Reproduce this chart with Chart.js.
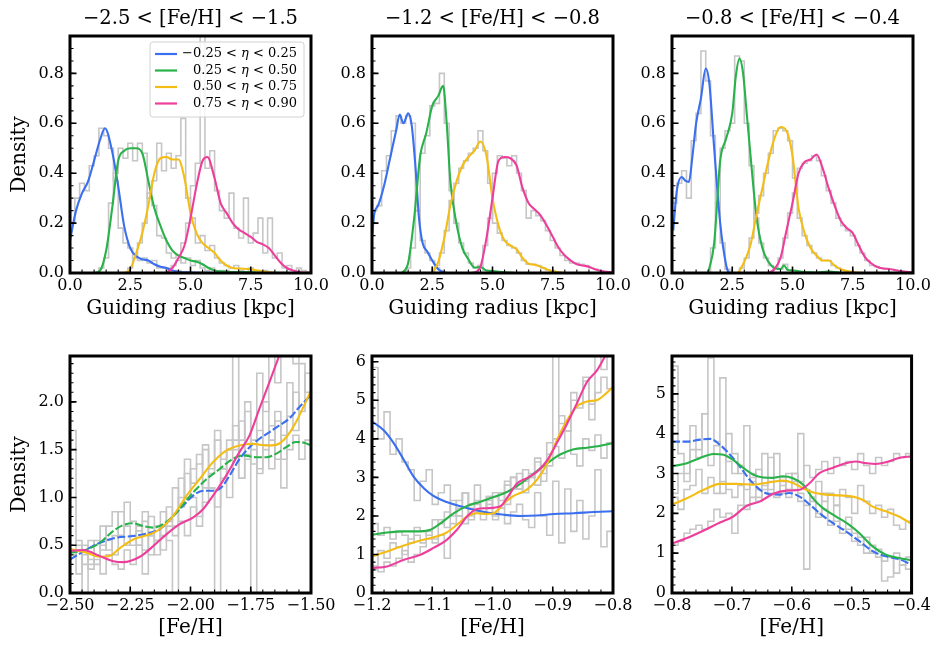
<!DOCTYPE html>
<html><head><meta charset="utf-8">
<script src="https://cdn.jsdelivr.net/npm/chart.js@4.4.0/dist/chart.umd.min.js"></script>
<style>
html,body{margin:0;padding:0;background:#fff;}
#wrap{position:relative;width:934px;height:646px;overflow:hidden;background:#fff;}
canvas{position:absolute;left:0;top:0;}
</style></head><body><div id="wrap">
<canvas id="c0" width="934" height="646"></canvas>
<canvas id="c1" width="934" height="646"></canvas>
<canvas id="c2" width="934" height="646"></canvas>
<canvas id="c3" width="934" height="646"></canvas>
<canvas id="c4" width="934" height="646"></canvas>
<canvas id="c5" width="934" height="646"></canvas>
</div>
<script>
// ---------------- DATA ----------------
const panelTitles = ['−2.5 < [Fe/H] < −1.5', '−1.2 < [Fe/H] < −0.8', '−0.8 < [Fe/H] < −0.4'];
const groupLabels = [['−0.25 < ', 'η', ' < 0.25'], ['0.25 < ', 'η', ' < 0.50'], ['0.50 < ', 'η', ' < 0.75'], ['0.75 < ', 'η', ' < 0.90']];
const groupColors = ['#3a6ff0', '#29b24a', '#f4bd15', '#ee3e9c'];

// Top row: guiding radius KDE curves [Rg (kpc), density]
const rgA_blue = [[0,0.13],[0.25,0.25],[0.5,0.32],[0.75,0.367],[1.0,0.45],[1.25,0.535],[1.45,0.58],[1.75,0.487],[2.0,0.347],[2.25,0.187],[2.5,0.1],[2.75,0.067],[3.0,0.055],[3.25,0.05],[3.5,0.035],[3.75,0.025],[4.0,0.02],[4.25,0.01],[4.5,0.005],[5.0,0.002],[6.0,0]];
const rgA_green = [[1.0,0],[1.25,0.01],[1.5,0.09],[1.75,0.26],[2.0,0.45],[2.25,0.49],[2.5,0.5],[2.75,0.5],[3.0,0.48],[3.25,0.37],[3.5,0.26],[3.75,0.19],[4.0,0.13],[4.25,0.09],[4.5,0.07],[4.75,0.06],[5.0,0.05],[5.25,0.045],[5.5,0.035],[5.75,0.02],[6.0,0.01],[6.5,0.005],[7.5,0.003],[9.0,0]];
const rgA_yellow = [[2.25,0],[2.5,0.015],[2.75,0.08],[3.0,0.16],[3.25,0.27],[3.5,0.4],[3.75,0.46],[4.0,0.465],[4.25,0.455],[4.5,0.455],[4.75,0.38],[5.0,0.24],[5.25,0.16],[5.5,0.12],[5.75,0.1],[6.0,0.08],[6.25,0.05],[6.5,0.03],[6.75,0.02],[7.0,0.018],[7.5,0.015],[8.0,0.007],[8.5,0]];
const rgA_pink = [[4.0,0],[4.25,0.02],[4.5,0.06],[4.75,0.11],[5.0,0.22],[5.25,0.35],[5.5,0.45],[5.7,0.465],[6.0,0.38],[6.25,0.28],[6.5,0.24],[6.75,0.2],[7.0,0.175],[7.25,0.16],[7.5,0.145],[7.75,0.125],[8.0,0.115],[8.25,0.1],[8.5,0.07],[8.75,0.04],[9.0,0.02],[9.25,0.01],[9.5,0.004],[10,0]];

const rgB_blue = [[0,0.14],[0.1,0.24],[0.25,0.27],[0.5,0.35],[0.75,0.46],[1.0,0.57],[1.15,0.635],[1.3,0.6],[1.5,0.64],[1.65,0.59],[1.8,0.43],[1.95,0.22],[2.1,0.12],[2.3,0.085],[2.5,0.05],[2.75,0.015],[3.0,0.002],[3.25,0]];
const rgB_green = [[1.25,0],[1.5,0.04],[1.75,0.22],[2.0,0.47],[2.25,0.56],[2.5,0.67],[2.75,0.71],[2.95,0.75],[3.1,0.6],[3.25,0.37],[3.5,0.2],[3.75,0.1],[4.0,0.055],[4.25,0.022],[4.5,0.024],[4.75,0.01],[5.0,0.008],[5.5,0.003],[6.0,0]];
const rgB_yellow = [[2.5,0],[2.75,0.045],[3.0,0.14],[3.25,0.27],[3.5,0.365],[3.75,0.43],[4.0,0.465],[4.25,0.49],[4.5,0.527],[4.75,0.47],[5.0,0.3],[5.25,0.19],[5.5,0.13],[5.75,0.11],[6.0,0.095],[6.25,0.06],[6.5,0.037],[6.75,0.033],[7.0,0.025],[7.25,0.015],[7.5,0.007],[8.0,0]];
const rgB_pink = [[4.25,0],[4.5,0.025],[4.75,0.14],[5.0,0.3],[5.25,0.45],[5.5,0.465],[5.75,0.46],[6.0,0.43],[6.25,0.34],[6.5,0.28],[6.75,0.255],[7.0,0.23],[7.25,0.19],[7.5,0.145],[7.75,0.1],[8.0,0.07],[8.25,0.05],[8.5,0.035],[8.75,0.03],[9.0,0.025],[9.25,0.015],[9.5,0.008],[10,0.002]];

const rgC_blue = [[0.05,0.17],[0.2,0.33],[0.4,0.385],[0.55,0.37],[0.7,0.365],[0.85,0.47],[1.0,0.6],[1.2,0.7],[1.4,0.82],[1.55,0.76],[1.75,0.5],[2.0,0.2],[2.25,0.03],[2.35,0]];
const rgC_green = [[1.5,0],[1.75,0.12],[2.0,0.45],[2.25,0.54],[2.5,0.64],[2.65,0.79],[2.8,0.86],[2.95,0.8],[3.1,0.64],[3.25,0.48],[3.5,0.23],[3.75,0.1],[4.0,0.045],[4.25,0.02],[4.5,0.016],[4.65,0.03],[4.8,0.012],[5.0,0.01],[5.5,0.004],[6.0,0.002],[6.5,0.006],[7.0,0]];
const rgC_yellow = [[2.75,0],[3.0,0.045],[3.25,0.11],[3.5,0.23],[3.75,0.34],[4.0,0.45],[4.25,0.54],[4.5,0.585],[4.75,0.57],[5.0,0.47],[5.25,0.26],[5.5,0.16],[5.75,0.1],[6.0,0.07],[6.25,0.05],[6.5,0.05],[6.75,0.03],[7.0,0.015],[7.5,0.004],[8.0,0]];
const rgC_pink = [[4.0,0],[4.25,0.015],[4.5,0.06],[4.75,0.17],[5.0,0.28],[5.25,0.4],[5.5,0.445],[5.75,0.455],[6.0,0.475],[6.25,0.42],[6.5,0.34],[6.75,0.27],[7.0,0.21],[7.25,0.18],[7.5,0.16],[7.75,0.11],[8.0,0.065],[8.25,0.04],[8.5,0.025],[8.75,0.018],[9.0,0.016],[9.25,0.012],[9.5,0.007],[10,0.003]];

// Top row histograms (bin width 0.2 kpc), {from: first bin edge, v: bin values}
const hA_blue = {from:0.0, v:[0.2,0.3,0.36,0.33,0.43,0.47,0.58,0.55,0.5,0.37,0.18,0.12,0.1,0.06,0.05,0.06,0.04,0.05,0.02,0.02,0.01,0,0.01]};
const hA_green = {from:1.2, v:[0.02,0.06,0.28,0.4,0.5,0.46,0.52,0.45,0.52,0.48,0.3,0.27,0.15,0.14,0.08,0.06,0.07,0.04,0.06,0.03,0.05,0.02,0.01,0.02,0,0.01,0.01]};
const hA_yellow = {from:2.4, v:[0.02,0.06,0.12,0.2,0.32,0.37,0.52,0.41,0.48,0.42,0.47,0.62,0.3,0.22,0.12,0.15,0.09,0.11,0.06,0.04,0.03,0.02,0.03,0.01,0,0.02,0,0,0.01]};
const hA_pink = {from:4.0, v:[0.02,0.03,0.05,0.12,0.2,0.35,0.44,1.0,0.42,0.49,0.33,0.25,0.22,0.32,0.18,0.14,0.3,0.12,0.16,0.22,0.08,0.22,0.06,0.08,0.02,0.03,0.01,0.02,0.01,0.005]};

const hB_blue = {from:0.0, v:[0.25,0.27,0.41,0.47,0.57,0.63,0.6,0.63,0.6,0.25,0.13,0.08,0.05,0.02,0.01]};
const hB_green = {from:1.4, v:[0.02,0.1,0.25,0.48,0.55,0.67,0.68,0.8,0.6,0.33,0.2,0.12,0.08,0.04,0.02,0.03,0.01,0.01,0.005]};
const hB_yellow = {from:2.6, v:[0.03,0.08,0.17,0.29,0.36,0.42,0.45,0.48,0.5,0.57,0.49,0.36,0.2,0.16,0.13,0.11,0.1,0.08,0.05,0.035,0.035,0.03,0.02,0.012,0.008,0.004]};
const hB_pink = {from:4.2, v:[0.005,0.03,0.11,0.22,0.4,0.47,0.46,0.43,0.47,0.4,0.33,0.22,0.25,0.23,0.21,0.17,0.13,0.1,0.07,0.05,0.04,0.04,0.035,0.03,0.02,0.015,0.008,0.005,0.003]};

const hC_blue = {from:0.0, v:[0.28,0.36,0.41,0.3,0.53,0.64,0.89,0.77,0.55,0.28,0.12,0.015]};
const hC_green = {from:1.6, v:[0.1,0.28,0.5,0.57,0.6,0.87,0.85,0.6,0.43,0.22,0.12,0.06,0.03,0.02,0.015,0.035,0.012,0.01,0.005,0.003,0,0,0,0,0.006]};
const hC_yellow = {from:2.8, v:[0.02,0.06,0.14,0.24,0.31,0.4,0.48,0.57,0.58,0.57,0.53,0.38,0.22,0.15,0.11,0.08,0.06,0.05,0.05,0.03,0.02,0.01,0.005]};
const hC_pink = {from:4.2, v:[0.02,0.06,0.14,0.24,0.32,0.42,0.44,0.45,0.47,0.45,0.39,0.33,0.28,0.22,0.19,0.17,0.15,0.11,0.08,0.05,0.03,0.025,0.02,0.018,0.015,0.01,0.008,0.005,0.003]};

// Bottom row: [Fe/H] KDE curves
const feD_blue = [[-2.5,0.35],[-2.43,0.456],[-2.376,0.526],[-2.307,0.579],[-2.238,0.596],[-2.169,0.63],[-2.128,0.667],[-2.072,0.807],[-2.031,0.912],[-1.99,1.017],[-1.948,1.07],[-1.907,1.07],[-1.872,1.105],[-1.838,1.228],[-1.797,1.4],[-1.755,1.526],[-1.714,1.614],[-1.672,1.684],[-1.631,1.754],[-1.59,1.825],[-1.548,1.947],[-1.5,2.07]];
const feD_green = [[-2.5,0.42],[-2.43,0.456],[-2.376,0.526],[-2.32,0.65],[-2.28,0.71],[-2.238,0.73],[-2.197,0.70],[-2.155,0.684],[-2.114,0.72],[-2.07,0.807],[-2.03,0.93],[-1.99,1.05],[-1.934,1.19],[-1.879,1.298],[-1.824,1.404],[-1.783,1.44],[-1.728,1.42],[-1.686,1.42],[-1.645,1.456],[-1.603,1.526],[-1.562,1.58],[-1.528,1.572],[-1.5,1.544]];
const feD_yellow = [[-2.5,0.46],[-2.43,0.42],[-2.376,0.38],[-2.334,0.39],[-2.293,0.47],[-2.238,0.56],[-2.169,0.614],[-2.128,0.667],[-2.072,0.807],[-2.017,1.017],[-1.962,1.193],[-1.907,1.368],[-1.852,1.49],[-1.797,1.544],[-1.741,1.56],[-1.686,1.544],[-1.645,1.55],[-1.603,1.63],[-1.562,1.79],[-1.528,1.965],[-1.5,2.12]];
const feD_pink = [[-2.5,0.44],[-2.445,0.45],[-2.376,0.386],[-2.32,0.333],[-2.28,0.323],[-2.21,0.379],[-2.155,0.49],[-2.1,0.614],[-2.045,0.72],[-1.99,0.79],[-1.948,0.877],[-1.907,1.017],[-1.852,1.228],[-1.797,1.474],[-1.755,1.65],[-1.714,1.93],[-1.672,2.21],[-1.631,2.49],[-1.59,2.78]];

const feE_blue = [[-1.2,4.45],[-1.181,4.23],[-1.164,3.89],[-1.147,3.45],[-1.131,3.02],[-1.114,2.72],[-1.098,2.52],[-1.076,2.36],[-1.053,2.25],[-1.031,2.16],[-1.009,2.09],[-0.981,2.03],[-0.954,2.0],[-0.926,2.01],[-0.898,2.05],[-0.865,2.07],[-0.832,2.1],[-0.8,2.12]];
const feE_green = [[-1.2,1.51],[-1.175,1.57],[-1.147,1.6],[-1.12,1.6],[-1.103,1.64],[-1.087,1.8],[-1.064,2.07],[-1.042,2.26],[-1.02,2.37],[-0.998,2.49],[-0.976,2.62],[-0.954,2.83],[-0.932,3.09],[-0.909,3.37],[-0.887,3.6],[-0.865,3.73],[-0.843,3.77],[-0.821,3.82],[-0.8,3.89]];
const feE_yellow = [[-1.2,0.95],[-1.175,1.08],[-1.147,1.23],[-1.12,1.36],[-1.092,1.47],[-1.076,1.57],[-1.059,1.77],[-1.042,1.99],[-1.026,2.07],[-1.009,2.05],[-0.998,2.07],[-0.981,2.33],[-0.965,2.52],[-0.943,2.68],[-0.926,2.94],[-0.909,3.37],[-0.893,3.97],[-0.876,4.49],[-0.86,4.84],[-0.843,4.97],[-0.826,5.01],[-0.81,5.2],[-0.8,5.35]];
const feE_pink = [[-1.2,0.65],[-1.175,0.69],[-1.147,0.86],[-1.12,0.99],[-1.098,1.17],[-1.076,1.38],[-1.059,1.64],[-1.042,1.99],[-1.026,2.18],[-1.009,2.2],[-0.987,2.25],[-0.976,2.46],[-0.959,2.85],[-0.943,2.98],[-0.926,3.15],[-0.909,3.45],[-0.893,3.9],[-0.876,4.4],[-0.86,4.92],[-0.843,5.48],[-0.826,5.79],[-0.815,6.09],[-0.8,6.5]];

const feF_blue = [[-0.8,3.8],[-0.775,3.8],[-0.753,3.85],[-0.736,3.87],[-0.72,3.72],[-0.703,3.47],[-0.687,3.18],[-0.67,2.84],[-0.653,2.59],[-0.637,2.48],[-0.62,2.47],[-0.604,2.51],[-0.587,2.42],[-0.57,2.22],[-0.554,2.01],[-0.532,1.76],[-0.51,1.55],[-0.487,1.3],[-0.465,1.05],[-0.443,0.92],[-0.421,0.85],[-0.4,0.71]];
const feF_green = [[-0.8,3.18],[-0.775,3.26],[-0.753,3.39],[-0.731,3.49],[-0.714,3.47],[-0.698,3.34],[-0.681,3.14],[-0.664,2.97],[-0.648,2.9],[-0.631,2.89],[-0.615,2.93],[-0.598,2.88],[-0.581,2.72],[-0.565,2.38],[-0.548,2.13],[-0.526,1.92],[-0.504,1.71],[-0.487,1.5],[-0.465,1.17],[-0.443,0.96],[-0.421,0.88],[-0.4,0.82]];
const feF_yellow = [[-0.8,2.22],[-0.775,2.38],[-0.747,2.59],[-0.72,2.74],[-0.692,2.74],[-0.664,2.72],[-0.637,2.78],[-0.615,2.82],[-0.598,2.76],[-0.581,2.63],[-0.565,2.53],[-0.543,2.47],[-0.52,2.45],[-0.498,2.42],[-0.482,2.34],[-0.465,2.17],[-0.443,2.05],[-0.421,1.92],[-0.4,1.73]];
const feF_pink = [[-0.8,1.24],[-0.775,1.38],[-0.747,1.57],[-0.72,1.77],[-0.698,1.92],[-0.675,2.19],[-0.653,2.3],[-0.631,2.49],[-0.609,2.57],[-0.587,2.59],[-0.57,2.76],[-0.554,3.01],[-0.532,3.14],[-0.51,3.26],[-0.493,3.3],[-0.476,3.26],[-0.46,3.24],[-0.443,3.28],[-0.421,3.39],[-0.4,3.43]];

// Bottom row histograms
const hD_blue = {from:-2.5, v:[0.4,0.55,0.3,0.55,0.4,0.7,0.45,0.6,0.85,0.5,0.6,0.7,0.45,0.8,0.55,0.6,0.75,1.1,0.9,1.4,1.0,0.8,1.5,1.1,0.9,1.3,1.0,1.6,1.2,1.9,1.5,1.3,2.0,1.6,1.9,1.4,2.2,1.7,2.4,2.1]};
const hD_green = {from:-2.5, v:[1.7,0.5,0.4,0.25,0.55,0.45,0.7,0.85,0.6,0.95,0.75,0.5,0.85,0.6,0.7,0.45,0.9,0.7,1.2,1.0,1.3,1.45,1.1,1.25,1.6,1.3,1.5,1.75,1.2,1.4,1.6,1.25,1.55,1.3,1.8,1.1,1.5,1.65,1.4,1.6]};
const hD_yellow = {from:-2.5, v:[0.45,0.2,0.5,0.35,0.3,0.5,0.55,0.4,0.6,0.7,0.5,0.65,0.75,0.4,0.55,0.85,0.7,0.6,1.0,1.25,1.15,1.35,1.55,1.3,1.7,1.4,1.6,1.5,1.8,1.45,1.35,1.7,1.5,1.75,1.4,1.65,1.85,2.1,1.9,2.3]};
const hD_pink = {from:-2.5, v:[0.4,0.45,0.0,0.3,0.35,0.2,0.4,0.3,0.25,0.45,0.3,0.5,0.2,0.6,0.4,0.7,0.55,0.0,0.75,0.6,0.9,0.7,0.95,1.1,0.0,1.2,1.5,2.8,1.6,2.0,0.0,2.3,1.9,2.6,2.2,2.7,3.0,2.4,2.8,2.6]};

const hE_blue = {from:-1.2, v:[5.85,4.0,4.7,3.6,4.0,3.4,3.2,2.4,2.9,3.2,2.3,2.6,2.8,2.0,2.4,2.6,1.9,2.3,2.1,2.5,1.9,2.2,1.8,2.1,2.3,1.9,1.7,2.6,2.0,1.5,2.9,1.3,2.7,1.6,2.4,1.4,2.0,3.2,1.2,1.6]};
const hE_green = {from:-1.2, v:[1.8,1.5,1.7,1.4,1.6,1.5,1.3,1.7,1.6,1.5,1.9,1.8,2.1,2.4,2.0,2.6,2.3,2.8,2.2,2.5,2.6,2.4,2.9,2.7,3.1,2.6,3.0,3.4,2.9,3.3,3.8,3.5,4.2,3.6,3.3,4.0,3.7,4.1,3.5,3.9]};
const hE_yellow = {from:-1.2, v:[0.7,1.1,0.9,1.3,1.2,1.0,1.4,1.5,1.3,1.6,1.4,1.9,1.7,2.3,2.0,1.8,2.2,2.1,1.9,2.4,2.0,2.6,2.3,3.0,2.7,2.9,3.1,2.8,3.3,3.6,4.0,4.6,4.2,5.0,4.8,5.5,4.9,5.2,5.6,5.3]};
const hE_pink = {from:-1.2, v:[0.6,0.55,0.8,0.7,0.9,1.1,0.8,1.0,1.2,1.4,1.3,1.5,0.9,1.8,2.2,2.6,2.0,2.4,2.1,2.3,2.5,2.2,2.8,3.0,2.7,3.2,3.0,3.5,3.1,3.9,6.5,4.4,4.2,5.2,4.9,5.6,4.5,6.5,5.8,6.3]};

const hF_blue = {from:-0.8, v:[5.7,3.5,3.0,4.2,3.6,4.5,5.9,3.8,2.5,4.0,3.5,3.0,4.2,2.8,2.4,2.9,2.6,3.5,2.5,3.0,2.8,4.0,2.6,2.3,2.0,2.5,1.8,2.2,1.6,1.9,1.5,1.2,1.4,1.0,1.1,0.8,0.9,0.5,0.7,0.6]};
const hF_green = {from:-0.8, v:[2.5,3.0,2.8,3.6,3.4,4.5,3.2,3.7,5.4,3.3,3.0,3.2,2.6,2.9,3.1,2.7,3.4,2.9,2.8,2.6,3.0,2.5,2.2,2.4,1.9,2.1,1.7,1.8,1.5,1.6,1.3,1.4,1.0,1.2,0.9,0.3,0.4,1.0,0.7,0.9]};
const hF_yellow = {from:-0.8, v:[2.4,2.1,2.6,2.7,3.1,2.5,2.9,2.5,2.8,2.6,2.4,2.7,2.2,3.0,2.6,3.5,2.8,2.5,2.9,2.4,2.6,2.3,0.6,2.4,2.8,2.3,2.5,2.2,2.6,2.4,2.0,2.7,2.3,2.0,2.2,1.9,2.1,1.7,1.6,1.8]};
const hF_pink = {from:-0.8, v:[1.2,1.3,1.5,1.6,1.7,1.6,1.8,2.1,1.9,2.0,1.5,2.2,2.1,2.4,2.3,2.6,2.5,2.4,2.7,2.6,3.0,2.8,3.2,2.9,3.1,3.3,3.0,3.4,3.2,3.3,3.1,3.5,3.2,3.0,3.4,3.2,3.3,3.5,3.4,3.5]};

// ---------------- LAYOUT / STYLE ----------------
const W = 934, H = 646;
const FONT = '"DejaVu Serif", serif';
const panels = [
  {id:'c0', area:[70,36,311,273], x:[0,10,2.5,0.5,1], y:[0,0.95,0.2,0.05,1], binW:0.2, xLabel:'Guiding radius [kpc]', yLabel:'Density', title:panelTitles[0], legend:true,
   curves:[rgA_blue,rgA_green,rgA_yellow,rgA_pink], hists:[hA_blue,hA_green,hA_yellow,hA_pink], dashed:[]},
  {id:'c1', area:[372,36,613,273], x:[0,10,2.5,0.5,1], y:[0,0.95,0.2,0.05,1], binW:0.2, xLabel:'Guiding radius [kpc]', yLabel:'', title:panelTitles[1],
   curves:[rgB_blue,rgB_green,rgB_yellow,rgB_pink], hists:[hB_blue,hB_green,hB_yellow,hB_pink], dashed:[]},
  {id:'c2', area:[672,36,913,273], x:[0,10,2.5,0.5,1], y:[0,0.95,0.2,0.05,1], binW:0.2, xLabel:'Guiding radius [kpc]', yLabel:'', title:panelTitles[2],
   curves:[rgC_blue,rgC_green,rgC_yellow,rgC_pink], hists:[hC_blue,hC_green,hC_yellow,hC_pink], dashed:[]},
  {id:'c3', area:[70,356,311,593], x:[-2.5,-1.5,0.25,0.05,2], y:[0,2.48,0.5,0.1,1], binW:0.025, xLabel:'[Fe/H]', yLabel:'Density', title:'',
   curves:[feD_blue,feD_green,feD_yellow,feD_pink], hists:[hD_blue,hD_green,hD_yellow,hD_pink], dashed:[0,1]},
  {id:'c4', area:[372,356,613,593], x:[-1.2,-0.8,0.1,0.02,1], y:[0,6.15,1,0.2,0], binW:0.01, xLabel:'[Fe/H]', yLabel:'', title:'',
   curves:[feE_blue,feE_green,feE_yellow,feE_pink], hists:[hE_blue,hE_green,hE_yellow,hE_pink], dashed:[]},
  {id:'c5', area:[672,356,913,593], x:[-0.8,-0.4,0.1,0.02,1], y:[0,5.95,1,0.2,0], binW:0.01, xLabel:'[Fe/H]', yLabel:'', title:'',
   curves:[feF_blue,feF_green,feF_yellow,feF_pink], hists:[hF_blue,hF_green,hF_yellow,hF_pink], dashed:[0]}
];

function fmt(v, dec) {
  let s = (Math.abs(v) < 1e-9 ? 0 : v).toFixed(dec);
  return s.replace('-', '−');
}

function histDS(h, binW) {
  const pts = [{x:h.from, y:0}];
  h.v.forEach((v, i) => pts.push({x:h.from + i*binW, y:v}));
  const end = h.from + h.v.length*binW;
  pts.push({x:end, y:h.v[h.v.length-1]});
  pts.push({x:end, y:0});
  return {data:pts, borderColor:'#c6c6c6', borderWidth:1.6, pointRadius:0, stepped:'before', fill:false, order:10};
}
function curveDS(c, color, dashed, order) {
  return {data:c.map(p => ({x:p[0], y:p[1]})), borderColor:color, borderWidth:2.1, pointRadius:0, fill:false,
          cubicInterpolationMode:'monotone', borderDash: dashed ? [8,2.5] : [], order:order};
}

function makeDecor(p) {
  return {
    id:'decor_' + p.id,
    afterDatasetsDraw(chart) {
      const ctx = chart.ctx, a = chart.chartArea;
      const xs = chart.scales.x, ys = chart.scales.y;
      ctx.save();
      ctx.strokeStyle = '#000';
      // minor ticks
      ctx.lineWidth = 1.1;
      ctx.beginPath();
      const nx = Math.round((p.x[1]-p.x[0])/p.x[3]);
      for (let i = 0; i <= nx; i++) {
        const px = xs.getPixelForValue(p.x[0] + i*p.x[3]);
        ctx.moveTo(px, a.bottom); ctx.lineTo(px, a.bottom - 3.5);
      }
      const ny = Math.floor((p.y[1]-p.y[0])/p.y[3] + 1e-6);
      for (let i = 0; i <= ny; i++) {
        const py = ys.getPixelForValue(p.y[0] + i*p.y[3]);
        ctx.moveTo(a.left, py); ctx.lineTo(a.left + 3.5, py);
      }
      ctx.stroke();
      // major ticks
      ctx.lineWidth = 1.6;
      ctx.beginPath();
      xs.ticks.forEach(t => { const px = xs.getPixelForValue(t.value); ctx.moveTo(px, a.bottom); ctx.lineTo(px, a.bottom - 6.5); });
      ys.ticks.forEach(t => { const py = ys.getPixelForValue(t.value); ctx.moveTo(a.left, py); ctx.lineTo(a.left + 6.5, py); });
      ctx.stroke();
      // frame
      ctx.lineWidth = 3;
      ctx.strokeRect(a.left, a.top, a.right - a.left, a.bottom - a.top);
      ctx.restore();
    },
    afterDraw(chart) {
      const ctx = chart.ctx, a = chart.chartArea;
      ctx.save();
      if (p.title) {
        ctx.fillStyle = '#000';
        ctx.font = '19.5px ' + FONT;
        ctx.textAlign = 'center';
        ctx.textBaseline = 'middle';
        ctx.fillText(p.title, (a.left + a.right)/2, 19);
      }
      if (p.legend) {
        const bx = 150, by = 42, bw = 154, bh = 75, r = 3;
        ctx.beginPath();
        ctx.moveTo(bx + r, by); ctx.lineTo(bx + bw - r, by); ctx.arcTo(bx + bw, by, bx + bw, by + r, r);
        ctx.lineTo(bx + bw, by + bh - r); ctx.arcTo(bx + bw, by + bh, bx + bw - r, by + bh, r);
        ctx.lineTo(bx + r, by + bh); ctx.arcTo(bx, by + bh, bx, by + bh - r, r);
        ctx.lineTo(bx, by + r); ctx.arcTo(bx, by, bx + r, by, r);
        ctx.closePath();
        ctx.fillStyle = 'rgba(255,255,255,0.82)';
        ctx.fill();
        ctx.strokeStyle = '#d2d2d2';
        ctx.lineWidth = 1;
        ctx.stroke();
        groupLabels.forEach((parts, i) => {
          const y = 54 + i*16.5;
          ctx.strokeStyle = groupColors[i];
          ctx.lineWidth = 2.2;
          ctx.beginPath(); ctx.moveTo(155, y); ctx.lineTo(177, y); ctx.stroke();
          ctx.fillStyle = '#000';
          ctx.textBaseline = 'middle';
          ctx.textAlign = 'left';
          const fonts = ['13px ' + FONT, 'italic 13px ' + FONT, '13px ' + FONT];
          let widths = parts.map((s, k) => { ctx.font = fonts[k]; return ctx.measureText(s).width; });
          let x = 297 - widths.reduce((s, w) => s + w, 0);
          parts.forEach((s, k) => { ctx.font = fonts[k]; ctx.fillText(s, x, y); x += widths[k]; });
        });
      }
      ctx.restore();
    }
  };
}

Chart.defaults.font.family = FONT;
Chart.defaults.color = '#000';

panels.forEach(p => {
  const datasets = [];
  p.hists.forEach(h => datasets.push(histDS(h, p.binW)));
  p.curves.forEach((c, i) => datasets.push(curveDS(c, groupColors[i], p.dashed.includes(i), 3 - i)));
  const xH = H - p.area[3] > 100 ? 60 : H - p.area[3];
  const xTitlePad = H - p.area[3] > 100 ? 12 : 6;
  new Chart(document.getElementById(p.id), {
    type:'line',
    data:{datasets},
    options:{
      responsive:false, animation:false, devicePixelRatio:1,
      layout:{padding:{left:0, top:p.area[1], right:W - p.area[2], bottom:H - p.area[3] - xH}},
      plugins:{legend:{display:false}, tooltip:{enabled:false}, title:{display:false}},
      scales:{
        x:{type:'linear', position:'bottom', min:p.x[0], max:p.x[1], bounds:'data',
           ticks:{stepSize:p.x[2], includeBounds:false, autoSkip:false, maxRotation:0, minRotation:0, padding:3,
                  font:{size:16, family:FONT}, color:'#000', callback:v => fmt(v, p.x[4])},
           grid:{display:false, drawTicks:false}, border:{display:false},
           title:{display:true, text:p.xLabel, color:'#000', font:{size:20, family:FONT}, padding:{top:0, bottom:xTitlePad}},
           afterFit:s => { s.height = xH; }},
        y:{type:'linear', position:'left', min:p.y[0], max:p.y[1], bounds:'data',
           ticks:{stepSize:p.y[2], includeBounds:false, autoSkip:false, padding:6,
                  font:{size:16, family:FONT}, color:'#000', callback:v => fmt(v, p.y[4])},
           grid:{display:false, drawTicks:false}, border:{display:false},
           title:{display:!!p.yLabel, text:p.yLabel, color:'#000', font:{size:20, family:FONT}, padding:{top:8, bottom:0}},
           afterFit:s => { s.width = p.area[0]; }}
      }
    },
    plugins:[makeDecor(p)]
  });
});
</script>
</body></html>
